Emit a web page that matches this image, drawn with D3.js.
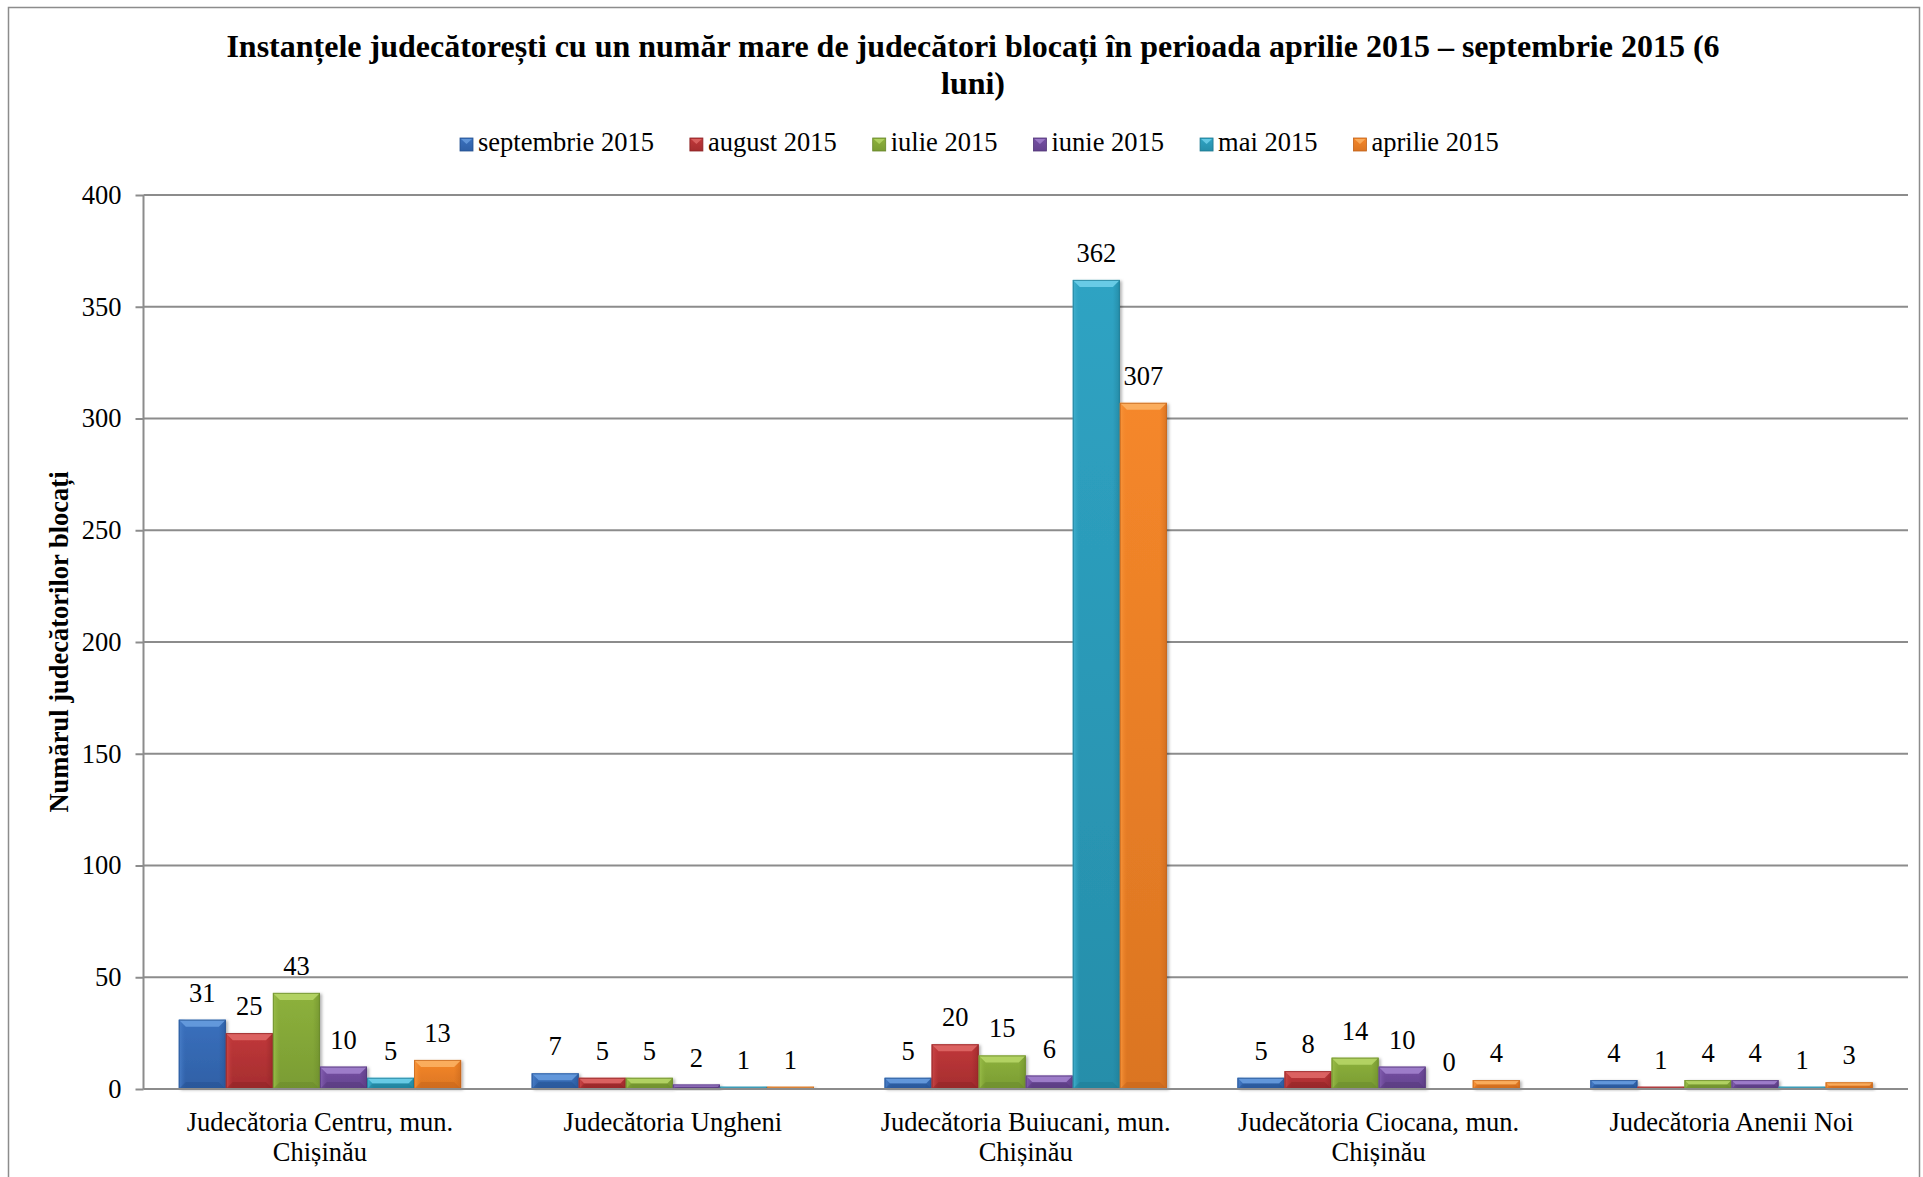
<!DOCTYPE html>
<html>
<head>
<meta charset="utf-8">
<script src="https://cdn.jsdelivr.net/npm/d3@7/dist/d3.min.js"></script>
<style>
html,body{margin:0;padding:0;background:#fff;}
svg{display:block;}
text{font-family:"Liberation Serif","Times New Roman",serif;fill:#000;}
</style>
</head>
<body>
<svg id="chart" width="1923" height="1177"></svg>
<script>
const titleLines = ["Instanțele judecătorești cu un număr mare de judecători blocați în perioada aprilie 2015 – septembrie 2015 (6", "luni)"];
const yAxisTitle = "Numărul judecătorilor blocați";
const categories = ["Judecătoria Centru, mun. Chișinău", "Judecătoria Ungheni", "Judecătoria Buiucani, mun. Chișinău", "Judecătoria Ciocana, mun. Chișinău", "Judecătoria Anenii Noi"];
const seriesNames = ["septembrie 2015", "august 2015", "iulie 2015", "iunie 2015", "mai 2015", "aprilie 2015"];
const septembrie = [31, 7, 5, 5, 4];
const august = [25, 5, 20, 8, 1];
const iulie = [43, 5, 15, 14, 4];
const iunie = [10, 2, 6, 10, 4];
const mai = [5, 1, 362, 0, 1];
const aprilie = [13, 1, 307, 4, 3];
const seriesValues = [septembrie, august, iulie, iunie, mai, aprilie];
const yTicks = [0, 50, 100, 150, 200, 250, 300, 350, 400];
const palette = [
  {base:"#3a70bd", light:"#6a9fe0", dark:"#24508f"},
  {base:"#c0383a", light:"#e06a68", dark:"#8a2224"},
  {base:"#8db13c", light:"#b8d86a", dark:"#67862a"},
  {base:"#7650a4", light:"#a585d0", dark:"#523677"},
  {base:"#2fa3c3", light:"#72d2ec", dark:"#1d7890"},
  {base:"#f5872a", light:"#fbb466", dark:"#c0621a"}
];

const svg = d3.select("#chart");
const plot = {left:143.5, right:1908, top:195, bottom:1089};
const FS = 26.5;

// outer frame
svg.append("rect").attr("x",8.5).attr("y",7.5).attr("width",1911).attr("height",1220)
  .attr("fill","none").attr("stroke","#8c8c8c").attr("stroke-width",1.5);

const defs = svg.append("defs");
const f = defs.append("filter").attr("id","shadow").attr("x","-20%").attr("y","-20%").attr("width","150%").attr("height","150%");
f.append("feDropShadow").attr("dx",2).attr("dy",1).attr("stdDeviation",1.5).attr("flood-color","#000").attr("flood-opacity",0.3);
palette.forEach((p,i)=>{
  const g = defs.append("linearGradient").attr("id","grad"+i).attr("x1",0).attr("y1",0).attr("x2",0).attr("y2",1);
  g.append("stop").attr("offset","0%").attr("stop-color",p.base);
  g.append("stop").attr("offset","100%").attr("stop-color",d3.interpolateRgb(p.base,p.dark)(0.5));
  const h = defs.append("linearGradient").attr("id","hgrad"+i).attr("x1",0).attr("y1",0).attr("x2",1).attr("y2",0);
  h.append("stop").attr("offset","0%").attr("stop-color",d3.interpolateRgb(p.base,p.light)(0.35));
  h.append("stop").attr("offset","15%").attr("stop-color",p.base).attr("stop-opacity",0);
  h.append("stop").attr("offset","85%").attr("stop-color",p.dark).attr("stop-opacity",0);
  h.append("stop").attr("offset","100%").attr("stop-color",p.dark).attr("stop-opacity",0.5);
});

// title
const title = svg.append("text").attr("text-anchor","middle").attr("font-weight","bold").attr("font-size",32);
titleLines.forEach((t,i)=>{
  title.append("tspan").attr("x",973).attr("y",57 + i*37).text(t);
});

// legend
const legend = svg.append("g").attr("font-size",FS);
let lx = 460;
seriesNames.forEach((name,i)=>{
  const p = palette[i];
  const g = legend.append("g").attr("transform",`translate(${lx},138)`);
  g.append("rect").attr("width",13).attr("height",13).attr("fill",`url(#grad${i})`).attr("stroke",p.dark).attr("stroke-width",0.8);
  g.append("path").attr("d","M1,1 L12,1 L6.5,6 Z").attr("fill",p.light).attr("opacity",0.8);
  const t = g.append("text").attr("x",18).attr("y",13).text(name);
  const w = t.node().getComputedTextLength();
  lx += 18 + w + 36;
});

// scales
const y = d3.scaleLinear().domain([0,400]).range([plot.bottom, plot.top]);
const x0 = d3.scaleBand().domain(categories).range([plot.left, plot.right]).paddingInner(0).paddingOuter(0);
// Excel gap width 150% => outer gap = 0.75 bar each side
const x1 = d3.scaleBand().domain(seriesNames).range([0, x0.bandwidth()]).paddingInner(0).paddingOuter(0.75);

// gridlines + y axis
const yAxis = d3.axisLeft(y).tickValues(yTicks).tickSize(8).tickPadding(14).tickFormat(d3.format("d"));
const yg = svg.append("g").attr("transform",`translate(${plot.left},0)`).call(yAxis);
yg.attr("font-family",null).attr("font-size",null);
yg.select(".domain").attr("stroke","#8c8c8c").attr("stroke-width",2).attr("d",`M0,${plot.top}V${plot.bottom}`);
yg.selectAll(".tick line").attr("stroke","#8c8c8c").attr("stroke-width",2);
yg.selectAll(".tick text").attr("font-size",FS).attr("fill","#000");
svg.append("g").selectAll("line").data(yTicks).join("line")
  .attr("x1",plot.left).attr("x2",plot.right)
  .attr("y1",d=>y(d)).attr("y2",d=>y(d))
  .attr("stroke","#8c8c8c").attr("stroke-width",2);

// y axis title
svg.append("text").attr("transform",`translate(68,${(plot.top+plot.bottom)/2}) rotate(-90)`)
  .attr("text-anchor","middle").attr("font-weight","bold").attr("font-size",FS).text(yAxisTitle);

// bars
const bw = x1.bandwidth();
const barsG = svg.append("g");
categories.forEach((cat,ci)=>{
  seriesNames.forEach((s,si)=>{
    const v = seriesValues[si][ci];
    const p = palette[si];
    const bx = x0(cat) + x1(s);
    const by = y(v);
    const bh = y(0) - y(v);
    const g = barsG.append("g");
    if (bh > 0) {
      g.append("rect").attr("x",bx).attr("y",by).attr("width",bw).attr("height",bh)
        .attr("fill",`url(#grad${si})`).attr("filter","url(#shadow)");
      g.append("rect").attr("x",bx).attr("y",by).attr("width",bw).attr("height",bh)
        .attr("fill",`url(#hgrad${si})`);
      const b = Math.min(7, bh/2);
      g.append("path").attr("d",`M${bx},${by} L${bx+bw},${by} L${bx+bw-b},${by+b} L${bx+b},${by+b} Z`)
        .attr("fill",p.light).attr("opacity",0.85);
      g.append("path").attr("d",`M${bx},${by+bh} L${bx+bw},${by+bh} L${bx+bw-b},${by+bh-b} L${bx+b},${by+bh-b} Z`)
        .attr("fill",p.dark).attr("opacity",0.45);
      g.append("rect").attr("x",bx+0.5).attr("y",by+0.5).attr("width",bw-1).attr("height",Math.max(0,bh-1))
        .attr("fill","none").attr("stroke",p.dark).attr("stroke-width",1).attr("opacity",0.7);
    }
    g.append("text").attr("x",bx+bw/2).attr("y",by-18).attr("text-anchor","middle").attr("font-size",FS).text(v);
  });
});

// baseline axis
svg.append("line").attr("x1",plot.left).attr("x2",plot.right).attr("y1",plot.bottom).attr("y2",plot.bottom)
  .attr("stroke","#8c8c8c").attr("stroke-width",2);

// category labels (wrapped)
const catG = svg.append("g").attr("font-size",FS);
categories.forEach(cat=>{
  const cx = x0(cat) + x0.bandwidth()/2;
  const t = catG.append("text").attr("text-anchor","middle");
  const words = cat.split(" ");
  let line = [], lines = [];
  const probe = catG.append("text").attr("font-size",FS);
  words.forEach(wd=>{
    const test = line.concat([wd]).join(" ");
    probe.text(test);
    if (probe.node().getComputedTextLength() > x0.bandwidth()-10 && line.length) {
      lines.push(line.join(" ")); line = [wd];
    } else line.push(wd);
  });
  lines.push(line.join(" "));
  probe.remove();
  lines.forEach((ln,i)=>{
    t.append("tspan").attr("x",cx).attr("y",1131 + i*30).text(ln);
  });
});
</script>
</body>
</html>
